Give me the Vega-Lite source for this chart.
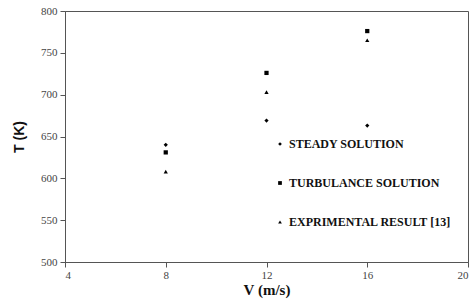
{
  "$schema": "https://vega.github.io/schema/vega-lite/v6.json",
  "width": 403,
  "height": 251,
  "autosize": {"type": "none"},
  "padding": {"left": 65, "top": 11, "right": 4, "bottom": 40},
  "background": "white",
  "config": {
    "view": {"stroke": "#555", "strokeWidth": 1},
    "axis": {"grid": false, "domainColor": "#555", "tickColor": "#555", "labelFont": "Liberation Serif", "labelFontSize": 11, "labelColor": "#444", "tickSize": 5, "titleColor": "#111"}
  },
  "data": {"values": [
    {"V": 8, "T": 640, "series": "STEADY SOLUTION"},
    {"V": 12, "T": 669, "series": "STEADY SOLUTION"},
    {"V": 16, "T": 663, "series": "STEADY SOLUTION"},
    {"V": 8, "T": 631, "series": "TURBULANCE SOLUTION"},
    {"V": 12, "T": 726, "series": "TURBULANCE SOLUTION"},
    {"V": 16, "T": 776, "series": "TURBULANCE SOLUTION"},
    {"V": 8, "T": 608, "series": "EXPRIMENTAL RESULT [13]"},
    {"V": 12, "T": 703, "series": "EXPRIMENTAL RESULT [13]"},
    {"V": 16, "T": 765, "series": "EXPRIMENTAL RESULT [13]"}
  ]},
  "mark": {"type": "point", "filled": true, "opacity": 1, "size": 18},
  "encoding": {
    "x": {"field": "V", "type": "quantitative", "scale": {"domain": [4, 20], "nice": false, "zero": false},
      "axis": {"values": [4, 8, 12, 16, 20], "title": "V (m/s)", "titleFont": "Liberation Serif", "titleFontWeight": "bold", "titleFontSize": 15, "titlePadding": 2, "labelPadding": 2}},
    "y": {"field": "T", "type": "quantitative", "scale": {"domain": [500, 800], "nice": false, "zero": false},
      "axis": {"values": [500, 550, 600, 650, 700, 750, 800], "title": "T (K)", "titleFont": "Liberation Sans", "titleFontWeight": "bold", "titleFontSize": 14, "titlePadding": 14, "labelPadding": 3}},
    "shape": {"field": "series", "type": "nominal",
      "scale": {"domain": ["STEADY SOLUTION", "TURBULANCE SOLUTION", "EXPRIMENTAL RESULT [13]"], "range": ["diamond", "square", "triangle-up"]},
      "legend": {"title": null, "orient": "none", "legendX": 209, "legendY": 127, "labelFont": "Liberation Serif", "labelFontWeight": "bold", "labelFontSize": 12, "labelColor": "#111", "rowPadding": 27, "symbolSize": 14, "symbolFillColor": "black", "symbolStrokeColor": "black", "labelOffset": 3, "labelLimit": 300}},
    "color": {"value": "black"}
  }
}
